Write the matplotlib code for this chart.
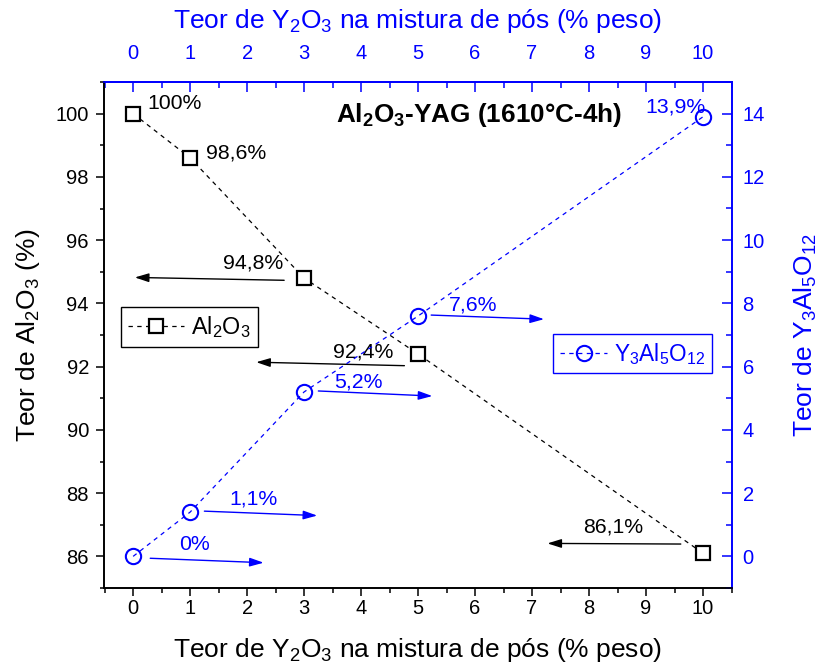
import matplotlib
matplotlib.use("Agg")
import matplotlib.pyplot as plt
from matplotlib.ticker import MultipleLocator

plt.rcParams['font.family'] = ['Liberation Sans', 'DejaVu Sans']
plt.rcParams['mathtext.fontset'] = 'custom'
plt.rcParams['mathtext.rm'] = 'Liberation Sans'
plt.rcParams['mathtext.it'] = 'Liberation Sans:italic'
plt.rcParams['mathtext.bf'] = 'Liberation Sans:bold'
plt.rcParams['mathtext.default'] = 'rm'

BLUE = '#0000FF'

# ---- data ----
y2o3 = [0, 1, 3, 5, 10]
al2o3 = [100, 98.6, 94.8, 92.4, 86.1]
yag = [0, 1.4, 5.2, 7.6, 13.9]
al2o3_labels = ['100%', '98,6%', '94,8%', '92,4%', '86,1%']
yag_labels = ['0%', '1,1%', '5,2%', '7,6%', '13,9%']

# label placement (data coords) and arrows (start -> tip), None = no arrow
al_text_pos = [(0.72, 100.33), (1.81, 98.76), (2.11, 95.29), (4.03, 92.47), (8.42, 86.94)]
al_arrows = [None, None, ((2.65, 94.73), (0.03, 94.82)),
             ((4.76, 92.03), (2.16, 92.14)), ((9.61, 86.39), (7.27, 86.41))]
yag_text_pos = [(1.07, 0.36), (2.12, 1.81), (3.96, 5.52), (5.97, 7.95), (9.52, 14.22)]
yag_arrows = [((0.30, -0.06), (2.29, -0.20)), ((1.25, 1.43), (3.23, 1.29)),
              ((3.25, 5.23), (5.25, 5.07)), ((5.23, 7.63), (7.21, 7.50)), None]

fig = plt.figure(figsize=(8.21, 6.68), dpi=100)
ax = fig.add_axes([103.5/821, 1-588/668, (731.5-103.5)/821, (588-82)/668])
ax2 = ax.twinx()

l1, = ax.plot(y2o3, al2o3, color='black', ls=(0, (3.5, 3.5)), lw=0.9,
              marker='s', ms=9.5, mfc='white', mec='black', mew=1.6,
              label='Al$_2$O$_3$')
l2, = ax2.plot(y2o3, yag, color=BLUE, ls=(0, (3.5, 3.5)), lw=0.9,
               marker='o', ms=11, mfc='none', mec=BLUE, mew=1.5,
               label='Y$_3$Al$_5$O$_{12}$')

ax.set_xlim(-0.52, 10.5)
ax.set_ylim(85, 101)
ax2.set_ylim(-1, 15)

ax.xaxis.set_major_locator(MultipleLocator(1))
ax.xaxis.set_minor_locator(MultipleLocator(0.5))
ax.yaxis.set_major_locator(MultipleLocator(2))
ax.yaxis.set_minor_locator(MultipleLocator(1))
ax2.yaxis.set_major_locator(MultipleLocator(2))
ax2.yaxis.set_minor_locator(MultipleLocator(1))
ax.set_yticks(range(86, 101, 2))
ax2.set_yticks(range(0, 15, 2))

for a in (ax, ax2):
    for s in a.spines.values():
        s.set_linewidth(1.2)
    a.spines['top'].set_color(BLUE)
    a.spines['right'].set_color(BLUE)

ax.tick_params(axis='x', which='major', direction='out', length=6, width=1.1,
               labelsize=14.5, pad=2)
ax.tick_params(axis='x', which='minor', direction='out', length=3.5, width=1.1)
ax.tick_params(axis='y', which='major', direction='out', length=5.5, width=1.1,
               labelsize=14.5, pad=5)
ax.tick_params(axis='y', which='minor', direction='out', length=3, width=1.1)
ax2.tick_params(axis='y', which='major', direction='in', length=7, width=1.1,
                labelsize=14.5, pad=8, colors=BLUE)
ax2.tick_params(axis='y', which='minor', direction='in', length=4, width=1.1,
                colors=BLUE)

top = ax.secondary_xaxis('top')
top.xaxis.set_major_locator(MultipleLocator(1))
top.xaxis.set_minor_locator(MultipleLocator(0.5))
top.spines['top'].set_color(BLUE)
top.spines['top'].set_linewidth(1.2)
top.tick_params(axis='x', which='major', direction='in', length=7, width=1.1,
                labelsize=14.5, pad=14, colors=BLUE)
top.tick_params(axis='x', which='minor', direction='in', length=4.5, width=1.1,
                colors=BLUE)

xlabel = 'Teor de Y$_2$O$_3$ na mistura de pós (% peso)'
ax.set_xlabel(xlabel, fontsize=19, labelpad=13)
top.set_xlabel(xlabel, fontsize=19, color=BLUE, labelpad=11)
ax.set_ylabel('Teor de Al$_2$O$_3$ (%)', fontsize=19, labelpad=10)
ax2.set_ylabel('Teor de Y$_3$Al$_5$O$_{12}$', fontsize=19, color=BLUE, labelpad=19)

# annotations
for lab, (tx, ty), arr in zip(al2o3_labels, al_text_pos, al_arrows):
    ax.text(tx, ty, lab, fontsize=15.3, ha='center', va='center', color='black')
    if arr is not None:
        ax.annotate('', xy=arr[1], xytext=arr[0],
                    arrowprops=dict(arrowstyle='-|>,head_length=0.7,head_width=0.22',
                                    mutation_scale=12, lw=1.0, color='black',
                                    shrinkA=0, shrinkB=0))
for lab, (tx, ty), arr in zip(yag_labels, yag_text_pos, yag_arrows):
    ax2.text(tx, ty, lab, fontsize=15.3, ha='center', va='center', color=BLUE)
    if arr is not None:
        ax2.annotate('', xy=arr[1], xytext=arr[0],
                     arrowprops=dict(arrowstyle='-|>,head_length=0.7,head_width=0.22',
                                     mutation_scale=12, lw=1.0, color=BLUE,
                                     shrinkA=0, shrinkB=0))

ax2.text(6.07, 13.95, r'Al$_\mathbf{2}$O$_\mathbf{3}$-YAG (1610°C-4h)',
         fontsize=18.8, fontweight='bold', ha='center', va='center', color='black')

leg1 = ax2.legend(handles=[l1], loc='upper left',
                  bbox_to_anchor=(121/821, 1-307/668), bbox_transform=fig.transFigure,
                  fancybox=False, edgecolor='black', framealpha=1, fontsize=16.8,
                  handlelength=2.4, handletextpad=0.3, borderpad=0.3,
                  borderaxespad=0)
leg1.get_frame().set_linewidth(1.0)
ax2.add_artist(leg1)
leg2 = ax2.legend(handles=[l2], loc='upper left',
                  bbox_to_anchor=(553/821, 1-334/668), bbox_transform=fig.transFigure,
                  fancybox=False, edgecolor=BLUE, framealpha=1, fontsize=16.3,
                  handlelength=2.1, handletextpad=0.3, borderpad=0.3,
                  borderaxespad=0, labelcolor=BLUE)
leg2.get_frame().set_linewidth(1.0)

fig.savefig('out.png', dpi=100)
